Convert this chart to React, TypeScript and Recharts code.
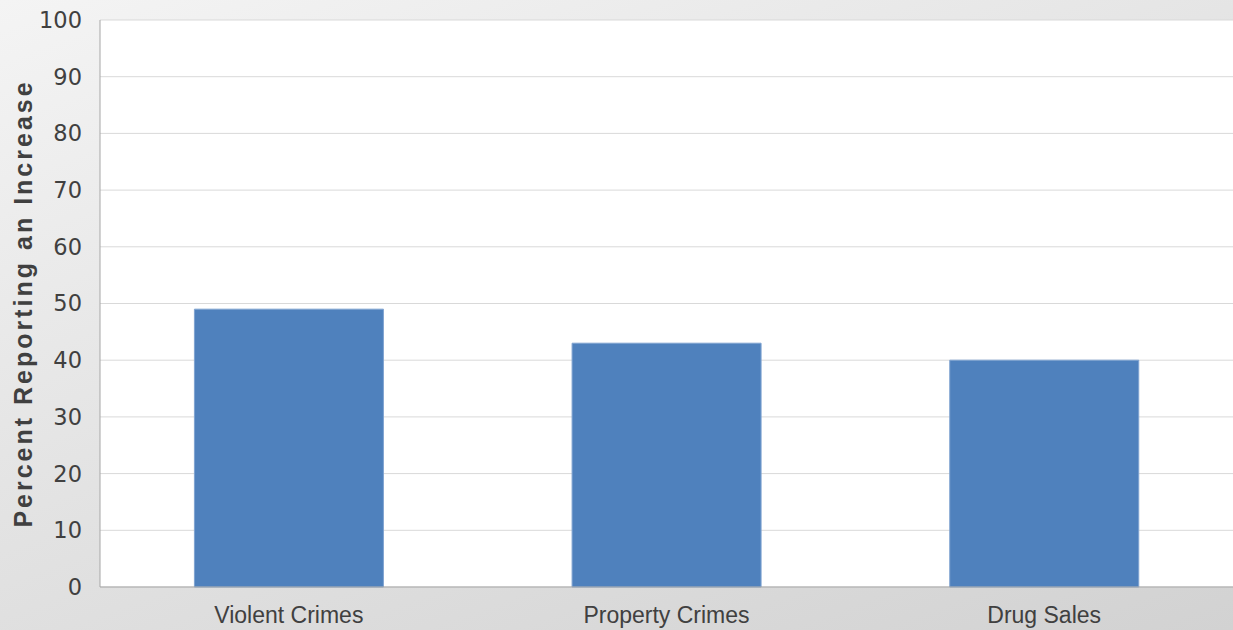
import { BarChart, Bar, XAxis, YAxis, CartesianGrid } from 'recharts';

const categories = ['Violent Crimes', 'Property Crimes', 'Drug Sales'];
const percentIncrease = [49, 43, 40];
const yTicks = [0, 10, 20, 30, 40, 50, 60, 70, 80, 90, 100];

const data = categories.map((name, i) => ({ name, value: percentIncrease[i] }));

export default function App() {
  return (
    <div
      style={{
        position: 'absolute', left: 0, top: 0, width: 1233, height: 630,
        background: 'linear-gradient(160deg, #f4f4f4 0%, #e4e4e4 45%, #d2d2d2 100%)',
      }}
    >
      <BarChart
        width={1233}
        height={630}
        data={data}
        margin={{ top: 20, right: 0, left: 0, bottom: 0 }}
        barCategoryGap="25%"
      >
        <CartesianGrid vertical={false} stroke="#d9d9d9" fill="#ffffff" />
        <XAxis
          dataKey="name"
          height={43}
          stroke="#a6a6a6"
          tickLine={false}
          tickSize={0}
          tickMargin={20}
          tick={{ fill: '#404040', fontSize: 23, fontFamily: 'Liberation Sans, Arial, sans-serif' }}
        />
        <YAxis
          width={100}
          domain={[0, 100]}
          ticks={yTicks}
          stroke="#a6a6a6"
          tickLine={false}
          tickSize={0}
          tickMargin={18}
          tick={{ fill: '#404040', fontSize: 22.5, fontFamily: 'DejaVu Sans, sans-serif' }}
          label={{
            value: 'Percent Reporting an Increase',
            angle: -90,
            position: 'insideLeft',
            dx: 18,
            style: {
              textAnchor: 'middle', fill: '#404040', fontSize: 25, fontWeight: 'bold',
              letterSpacing: 3, fontFamily: 'Liberation Sans, Arial, sans-serif',
            },
          }}
        />
        <Bar dataKey="value" fill="#4f81bd" stroke="#7fa3d0" strokeWidth={1} isAnimationActive={false} />
      </BarChart>
    </div>
  );
}
